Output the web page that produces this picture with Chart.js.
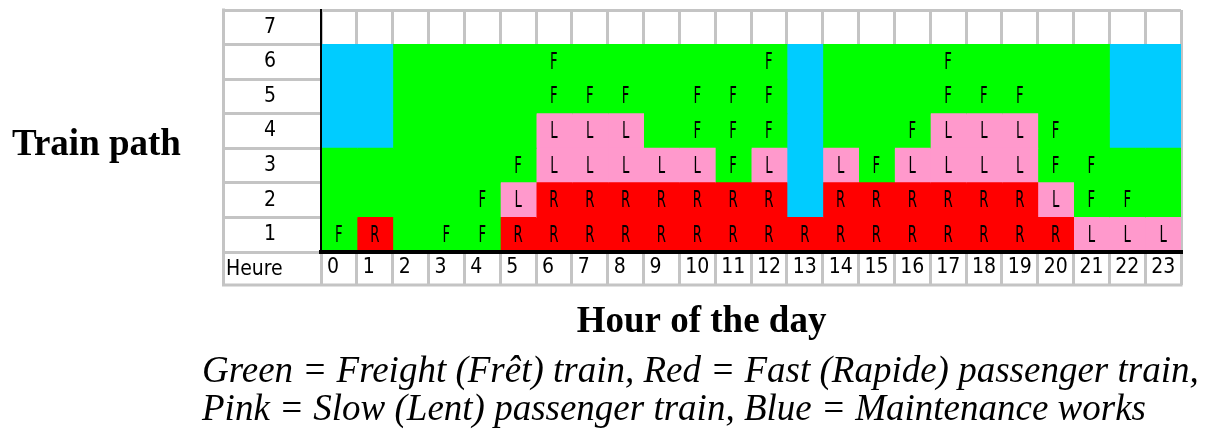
<!DOCTYPE html>
<html>
<head>
<meta charset="utf-8">
<script src="https://cdn.jsdelivr.net/npm/chart.js@4.4.1/dist/chart.umd.min.js"></script>
<style>
  html, body { margin: 0; padding: 0; background: #fff; }
  #wrap { position: relative; width: 1205px; height: 441px; }
</style>
</head>
<body>
<div id="wrap"><canvas id="chart"></canvas></div>
<script>
const hours = [0, 1, 2, 3, 4, 5, 6, 7, 8, 9, 10, 11, 12, 13, 14, 15, 16, 17, 18, 19, 20, 21, 22, 23]
const trainPaths = ['7', '6', '5', '4', '3', '2', '1']

// F/R/L = train written in the cell, f = freight without letter, M = maintenance, . = free path
const path7 = ['.', '.', '.', '.', '.', '.', '.', '.', '.', '.', '.', '.', '.', '.', '.', '.', '.', '.', '.', '.', '.', '.', '.', '.']
const path6 = ['M', 'M', 'f', 'f', 'f', 'f', 'F', 'f', 'f', 'f', 'f', 'f', 'F', 'M', 'f', 'f', 'f', 'F', 'f', 'f', 'f', 'f', 'M', 'M']
const path5 = ['M', 'M', 'f', 'f', 'f', 'f', 'F', 'F', 'F', 'f', 'F', 'F', 'F', 'M', 'f', 'f', 'f', 'F', 'F', 'F', 'f', 'f', 'M', 'M']
const path4 = ['M', 'M', 'f', 'f', 'f', 'f', 'L', 'L', 'L', 'f', 'F', 'F', 'F', 'M', 'f', 'f', 'F', 'L', 'L', 'L', 'F', 'f', 'M', 'M']
const path3 = ['f', 'f', 'f', 'f', 'f', 'F', 'L', 'L', 'L', 'L', 'L', 'F', 'L', 'M', 'L', 'F', 'L', 'L', 'L', 'L', 'F', 'F', 'f', 'f']
const path2 = ['f', 'f', 'f', 'f', 'F', 'L', 'R', 'R', 'R', 'R', 'R', 'R', 'R', 'M', 'R', 'R', 'R', 'R', 'R', 'R', 'L', 'F', 'F', 'f']
const path1 = ['F', 'R', 'f', 'F', 'F', 'R', 'R', 'R', 'R', 'R', 'R', 'R', 'R', 'R', 'R', 'R', 'R', 'R', 'R', 'R', 'R', 'L', 'L', 'L']
const pathRows = [path7, path6, path5, path4, path3, path2, path1]

const captionLines = [
  'Green = Freight (Frêt) train, Red = Fast (Rapide) passenger train,',
  'Pink = Slow (Lent) passenger train, Blue = Maintenance works',
]

const colors = { F: '#00ff00', f: '#00ff00', R: '#ff0000', L: '#ff99cc', M: '#00ccff', '.': 'rgba(0,0,0,0)' }
const gridGrey = '#c4c4c4'
const narrow = "'Liberation Sans Narrow', 'Arial Narrow', 'DejaVu Sans Condensed', sans-serif"
const serif = "'Liberation Serif', 'Times New Roman', serif"

Chart.defaults.font.family = narrow
Chart.defaults.font.size = 21
Chart.defaults.color = '#000'

const datasets = hours.map((h, i) => ({
  label: String(h),
  data: trainPaths.map(() => [h, h + 1]),
  backgroundColor: pathRows.map(row => colors[row[i]]),
}))

const tableText = {
  id: 'tableText',
  afterDatasetsDraw(chart) {
    const { ctx, scales: { x, y } } = chart
    ctx.save()
    ctx.fillStyle = '#000'
    ctx.font = '23px ' + narrow
    ctx.textAlign = 'center'
    ctx.textBaseline = 'middle'
    pathRows.forEach((row, i) => {
      row.forEach((code, h) => {
        if (!'FRL'.includes(code)) return
        ctx.save()
        ctx.translate(x.getPixelForValue(hours[h] + 0.5), y.getPixelForValue(i) + 1)
        ctx.scale(0.64, 1)
        ctx.fillText(code, 0, 0)
        ctx.restore()
      })
    })
    ctx.restore()
  },
  afterDraw(chart) {
    const { ctx, scales: { x, y } } = chart
    ctx.save()
    // outer borders of the label column and hour row
    ctx.strokeStyle = gridGrey
    ctx.lineWidth = 3
    ctx.beginPath()
    ctx.moveTo(y.left + 1.5, y.top - 1.5)
    ctx.lineTo(y.left + 1.5, x.bottom)
    ctx.lineTo(x.right + 1.5, x.bottom)
    ctx.stroke()

    ctx.fillStyle = '#000'
    ctx.font = '21px ' + narrow
    ctx.textAlign = 'left'
    ctx.textBaseline = 'middle'
    ctx.fillText('Heure', y.left + 4, (x.top + x.bottom) / 2 + 1)

    ctx.font = 'bold 37px ' + serif
    ctx.textBaseline = 'alphabetic'
    ctx.fillText('Train path', 12, 155)
    ctx.textAlign = 'center'
    ctx.fillText('Hour of the day', (y.left + x.right) / 2, 332)

    ctx.font = 'italic 37px ' + serif
    ctx.textAlign = 'left'
    captionLines.forEach((line, i) => ctx.fillText(line, 202, 382 + i * 38))
    ctx.restore()
  },
}

new Chart('chart', {
  type: 'bar',
  data: { labels: trainPaths, datasets },
  options: {
    indexAxis: 'y',
    responsive: true,
    maintainAspectRatio: false,
    animation: false,
    layout: { padding: { left: 222, top: 10, right: 24, bottom: 156 } },
    datasets: {
      bar: { grouped: false, barPercentage: 1, categoryPercentage: 1, borderWidth: 0, inflateAmount: 0.5 },
    },
    plugins: { legend: { display: false }, tooltip: { enabled: false } },
    scales: {
      x: {
        type: 'linear',
        position: 'bottom',
        min: 0,
        max: 24,
        afterFit: scale => { scale.height = 33 },
        grid: { color: gridGrey, tickColor: gridGrey, lineWidth: 3, tickLength: 33 },
        border: { display: true, color: '#000', width: 4, z: 1 },
        ticks: {
          stepSize: 1,
          autoSkip: false,
          maxRotation: 0,
          align: 'start',
          padding: -30,
          callback: v => (v < 24 ? ' ' + v : ''),
        },
      },
      y: {
        type: 'category',
        offset: true,
        afterFit: scale => { scale.width = 99 },
        grid: {
          offset: true,
          lineWidth: 3,
          tickLength: 99,
          color: ctx => (ctx.index === 0 ? gridGrey : 'rgba(0,0,0,0)'),
          tickColor: gridGrey,
        },
        border: { display: true, color: '#000', width: 2, z: 1 },
        ticks: { crossAlign: 'center', padding: -54 },
      },
    },
  },
  plugins: [tableText],
})
</script>
</body>
</html>
